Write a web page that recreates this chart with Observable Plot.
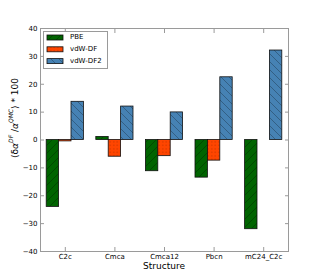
<!DOCTYPE html>
<html>
<head>
<meta charset="utf-8">
<script src="https://cdn.jsdelivr.net/npm/d3@7"></script>
<script src="https://cdn.jsdelivr.net/npm/@observablehq/plot@0.6"></script>
<style>
  html, body { margin: 0; padding: 0; background: #fff; }
</style>
</head>
<body>
<div id="chart"></div>
<script>
const categories = ["C2c", "Cmca", "Cmca12", "Pbcn", "mC24_C2c"];
const seriesNames = ["PBE", "vdW-DF", "vdW-DF2"];
const pbe = [-24, 1.1, -11.2, -13.5, -32];
const vdwdf = [-0.5, -6, -5.8, -7.4, 0];
const vdwdf2 = [13.7, 12, 9.9, 22.5, 32.1];
const yTicks = [-40, -30, -20, -10, 0, 10, 20, 30, 40];

const seriesValues = [pbe, vdwdf, vdwdf2];
const fills = ["url(#hatchPBE)", "url(#hatchDF)", "url(#hatchDF2)"];
const barWidth = 0.25;

const rows = [];
seriesValues.forEach((vals, s) => {
  vals.forEach((v, i) => {
    const x1 = i + (s - 1.5) * barWidth;
    rows.push({series: seriesNames[s], s, i, x1, x2: x1 + barWidth, value: v});
  });
});

const frameColor = "#9a9a9a";
const xTicks = categories.map((_, i) => i);

const plot = Plot.plot({
  width: 320,
  height: 280,
  marginLeft: 40,
  marginRight: 32,
  marginTop: 28,
  marginBottom: 29,
  style: {fontFamily: "DejaVu Sans", fontSize: "7px", background: "#fff", color: "#000"},
  x: {type: "linear", domain: [-0.5, 4.5]},
  y: {domain: [-40, 40]},
  marks: [
    ...seriesNames.map((name, s) =>
      Plot.rectY(rows.filter(d => d.s === s), {
        x1: "x1", x2: "x2", y1: 0, y2: "value",
        fill: fills[s], stroke: "#111", strokeWidth: 0.8
      })
    ),
    Plot.frame({stroke: frameColor}),
    Plot.axisX({anchor: "bottom", ticks: xTicks, tickFormat: i => categories[i], tickSize: -4, tickPadding: 7,
      stroke: frameColor, fill: "#000", label: null}),
    Plot.axisX({anchor: "top", ticks: xTicks, tickFormat: () => "", tickSize: -4, stroke: frameColor, label: null}),
    Plot.axisY({anchor: "left", ticks: yTicks, tickSize: -4, tickPadding: 7, stroke: frameColor, fill: "#000", label: null}),
    Plot.axisY({anchor: "right", ticks: yTicks, tickFormat: () => "", tickSize: -4, stroke: frameColor, label: null})
  ]
});

const svg = d3.select(plot);
const defs = svg.insert("defs", ":first-child");
function hatch(id, color, dir) {
  const w = 8;
  const p = defs.append("pattern").attr("id", id).attr("patternUnits", "userSpaceOnUse")
    .attr("width", w).attr("height", w);
  p.append("rect").attr("width", w).attr("height", w).attr("fill", color);
  const d = dir > 0
    ? `M0,${w} L${w},0 M-2,2 L2,-2 M${w-2},${w+2} L${w+2},${w-2}`
    : `M0,0 L${w},${w} M-2,${w-2} L2,${w+2} M${w-2},-2 L${w+2},2`;
  p.append("path").attr("d", d).attr("stroke", "#000").attr("stroke-opacity", 0.45).attr("stroke-width", 0.6);
}
hatch("hatchPBE", "#006400", 1);
hatch("hatchDF2", "#4682B4", -1);
const dp = defs.append("pattern").attr("id", "hatchDF").attr("patternUnits", "userSpaceOnUse")
  .attr("width", 3.5).attr("height", 3.5);
dp.append("rect").attr("width", 3.5).attr("height", 3.5).attr("fill", "#FF4500");
dp.append("circle").attr("cx", 1.75).attr("cy", 1.75).attr("r", 0.45).attr("fill", "#000").attr("fill-opacity", 0.5);

// Y axis label with super-scripts
const yl = svg.append("text")
  .attr("transform", "translate(15,118) rotate(-90)")
  .attr("text-anchor", "middle")
  .attr("dominant-baseline", "middle")
  .attr("font-size", 9)
  .attr("fill", "#000");
yl.append("tspan").text("⟨δ");
yl.append("tspan").attr("font-style", "italic").text("α");
yl.append("tspan").attr("font-size", 6).attr("dy", -4).attr("font-style", "italic").text("DF");
yl.append("tspan").attr("dy", 4).text(" /");
yl.append("tspan").attr("font-style", "italic").text("α");
yl.append("tspan").attr("font-size", 6).attr("dy", -4).attr("font-style", "italic").text("QMC");
yl.append("tspan").attr("dy", 4).text("⟩ * 100");

// X axis label
svg.append("text").attr("x", 164).attr("y", 266).attr("text-anchor", "middle")
  .attr("dominant-baseline", "middle").attr("font-size", 9).attr("fill", "#000").text("Structure");

// Legend
const lg = svg.append("g");
lg.append("rect").attr("x", 43.5).attr("y", 31.5).attr("width", 64).attr("height", 37)
  .attr("fill", "#fff").attr("stroke", frameColor);
seriesNames.forEach((name, s) => {
  const y = 35 + s * 11.8;
  lg.append("rect").attr("x", 47).attr("y", y).attr("width", 16).attr("height", 5)
    .attr("fill", fills[s]).attr("stroke", "#111").attr("stroke-width", 0.8);
  lg.append("text").attr("x", 70).attr("y", y + 2.5).attr("dominant-baseline", "middle")
    .attr("text-anchor", "start")
    .attr("font-size", 7).attr("fill", "#000").text(name);
});

document.getElementById("chart").appendChild(plot);
</script>
</body>
</html>
